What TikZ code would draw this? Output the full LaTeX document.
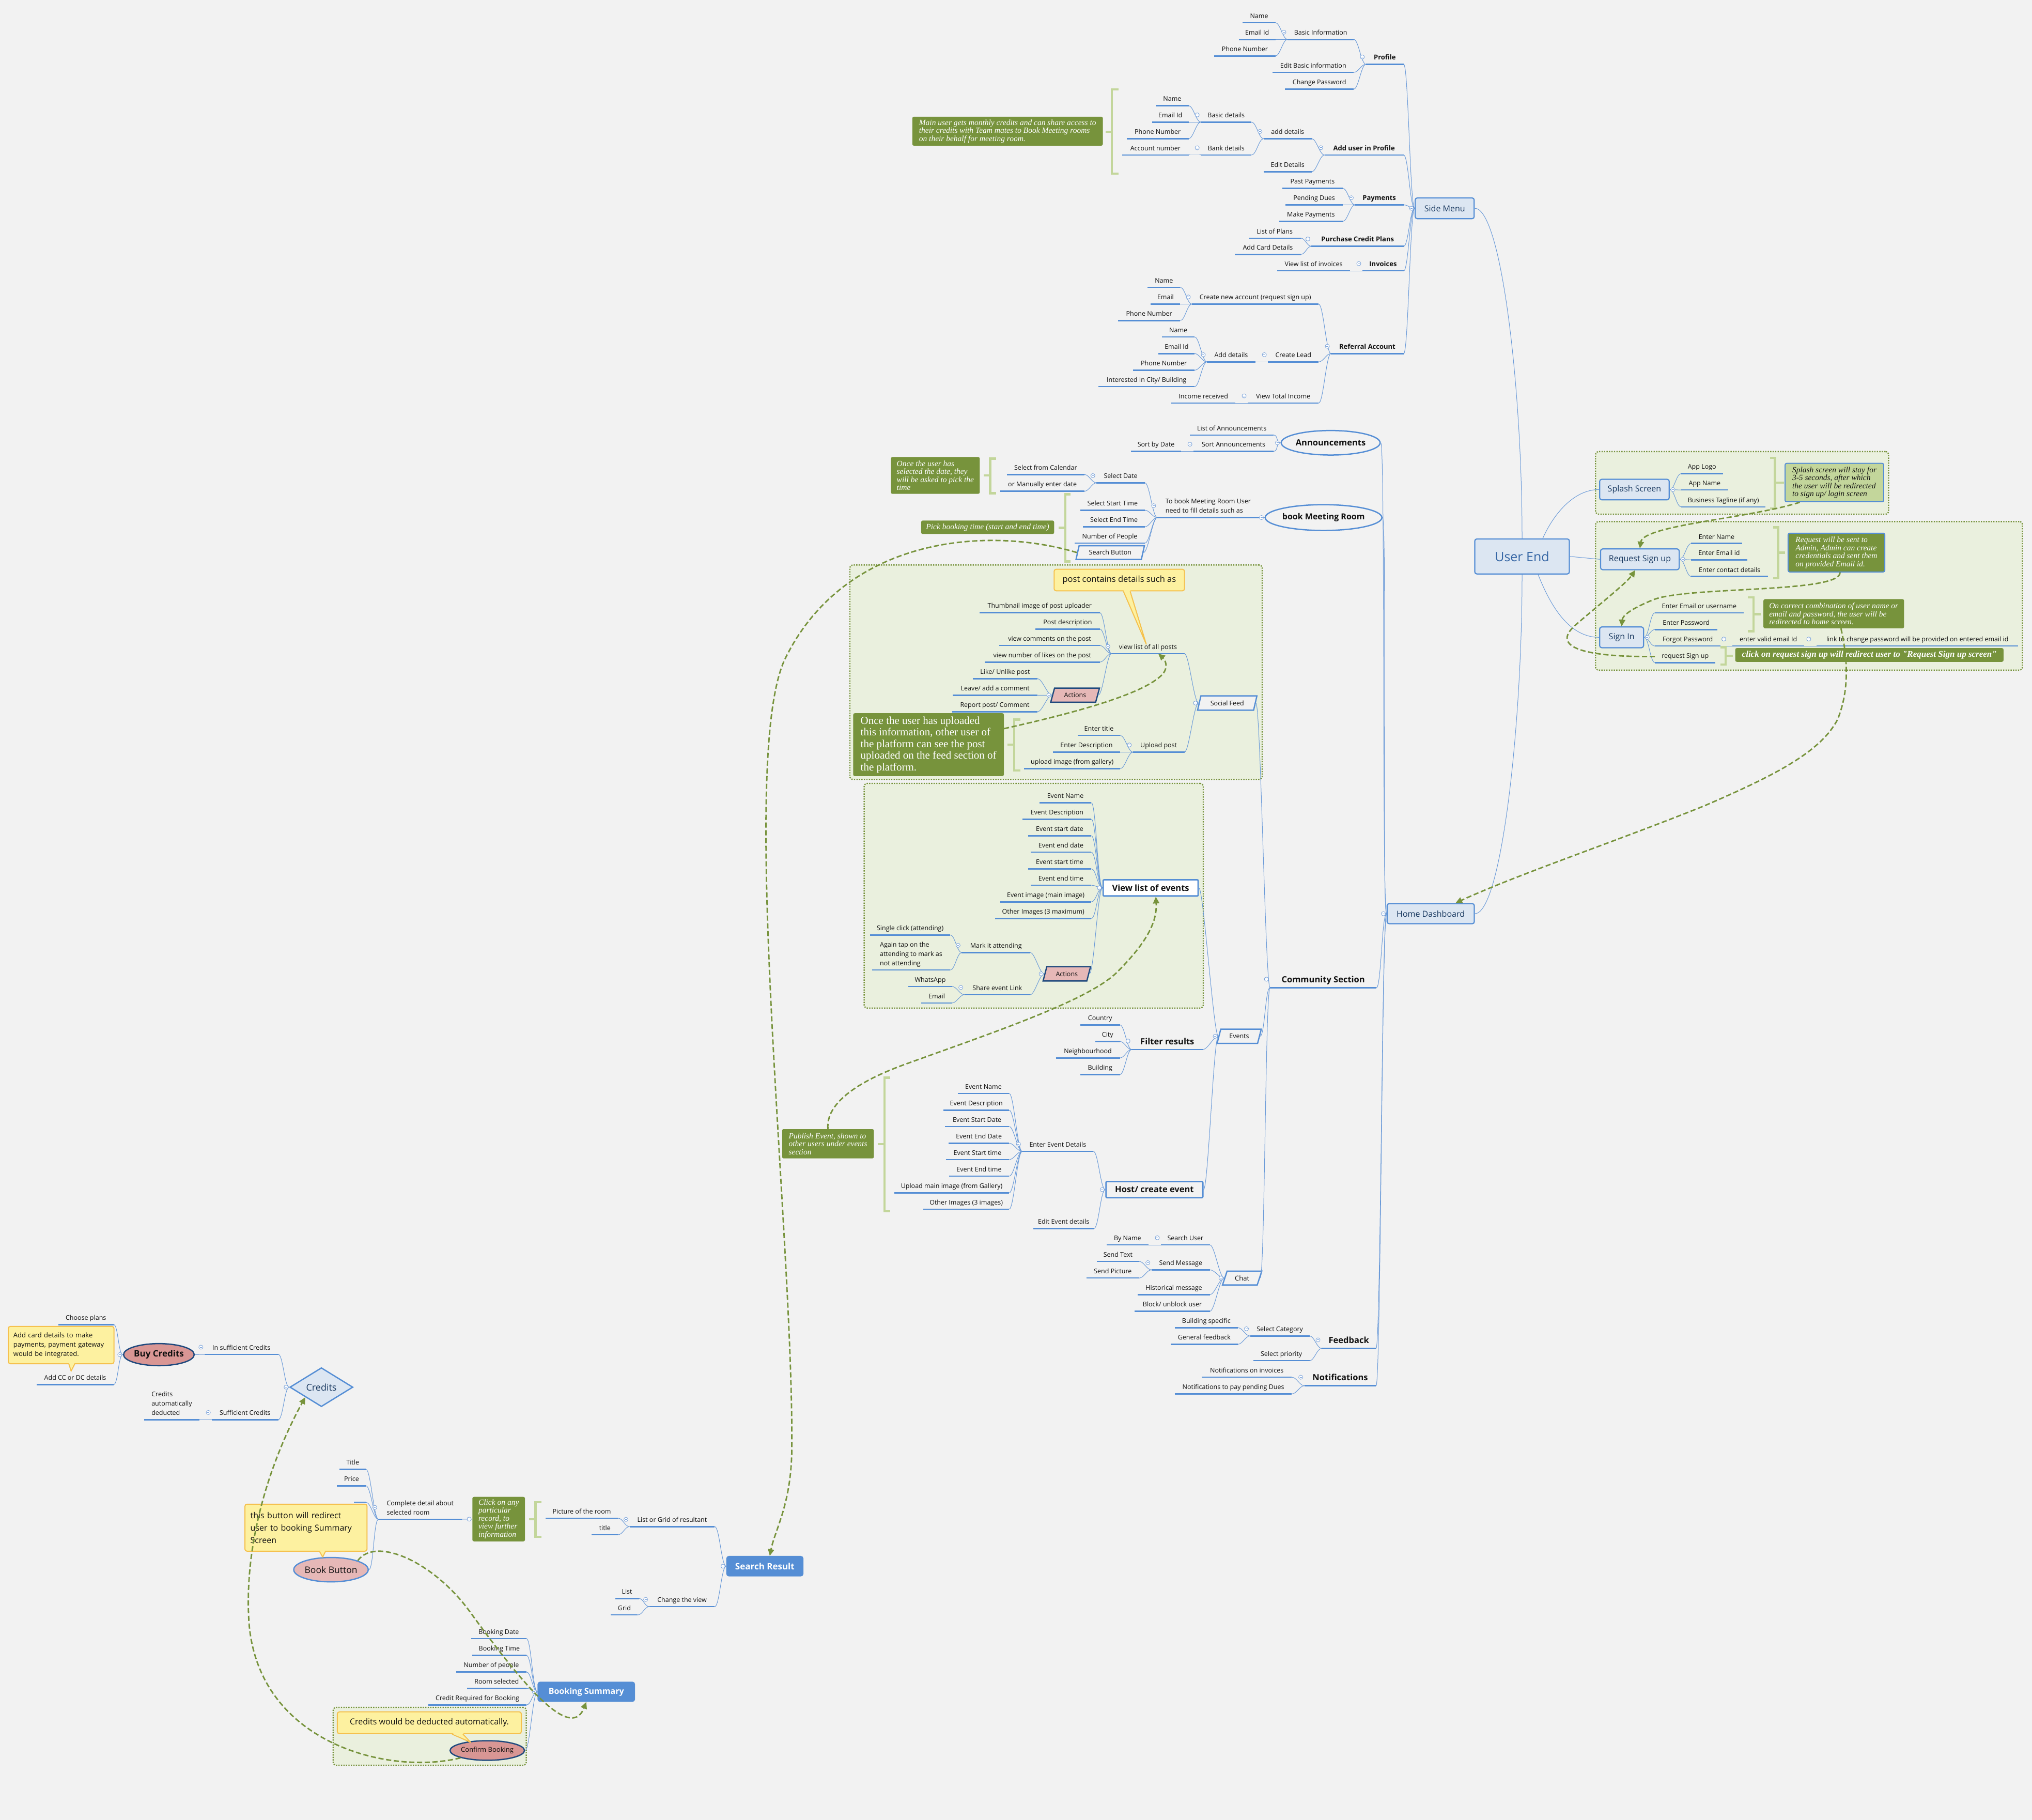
\documentclass[tikz,border=0pt]{standalone}
\usepackage{fontspec}
\setmainfont{Open Sans}
\newfontfamily\serifnote{Liberation Serif}
\usetikzlibrary{shapes.geometric,arrows.meta}
\definecolor{bgc}{HTML}{F2F2F2}
\definecolor{ulc}{HTML}{558ED5}
\definecolor{connc}{HTML}{6A9AD8}
\definecolor{boxfill}{HTML}{DCE6F2}
\definecolor{navy}{HTML}{17375E}
\definecolor{uetext}{HTML}{3465A4}
\definecolor{olive}{HTML}{77933C}
\definecolor{lolive}{HTML}{C3D69B}
\definecolor{contfill}{HTML}{EAF0DE}
\definecolor{pinkA}{HTML}{E6B8B7}
\definecolor{pinkB}{HTML}{D99694}
\definecolor{dblue}{HTML}{1F497D}
\definecolor{yfill}{HTML}{FDF1A0}
\definecolor{ydraw}{HTML}{F5C14E}
\definecolor{txt}{HTML}{111111}
\definecolor{collc}{HTML}{7BA3DA}
\newcommand\fsz[2]{\fontsize{#1}{#2}\selectfont}
\newcommand\tpc[6][]{\node[tp,#1,minimum width={(#4-#3)*2.5083pt},anchor=south west] (#2) at (#3,#5) {#6};\draw[ul] (#2.south west) -- (#2.south east);}
\newcommand\cnx[2]{\draw[conn] (#1) .. controls +(9pt,0pt) and +(-9pt,0pt) .. (#2);}
\newcommand\lcirc[1]{\path ([xshift=-7pt,yshift=2pt]#1.west) pic{coll};}
\newcommand\bcirc[1]{\path ([xshift=-6pt]#1.west) pic{coll};}
\newcommand\rcirc[1]{\path ([xshift=6pt]#1.east) pic{coll};}
\newcommand\ptr[4]{\fill[yfill] ([xshift=#2,yshift=2.5pt]#1.south) -- #4 -- ([xshift=#3,yshift=2.5pt]#1.south) -- cycle; \draw[draw=ydraw,line width=2pt,line join=round] ([xshift=#2]#1.south) -- #4 -- ([xshift=#3]#1.south);}
\tikzset{
  tp/.style={font=\fsz{12.5}{18}, text=txt, inner xsep=0pt, inner ysep=5.5pt, text depth=3pt},
  bt/.style={font=\fsz{13}{16}\bfseries},
  big/.style={font=\fsz{16.5}{20}\bfseries, inner ysep=6.5pt},
  ul/.style={draw=ulc, line width=2.5pt},
  conn/.style={draw=connc, line width=1pt},
  wh/.style 2 args={minimum width=#1*2.5083pt, minimum height=#2*2.5083pt},
  box/.style={draw=ulc, line width=2.2pt, fill=boxfill, rounded corners=4pt, text=navy, font=\fsz{16}{19}, inner sep=0pt},
  ell/.style={ellipse, draw=ulc, line width=2.5pt, fill=bgc, inner sep=0pt, text=txt},
  para/.style={trapezium, trapezium left angle=67, trapezium right angle=113, trapezium stretches=true, draw=ulc, line width=2.5pt, fill=bgc, inner sep=0pt, text=txt, font=\fsz{12.5}{15}},
  act/.style={para, fill=pinkA, draw=dblue},
  rbox/.style={draw=ulc, line width=2.8pt, fill=white, rounded corners=2pt, inner sep=0pt, text=txt, font=\fsz{16.5}{20}\bfseries},
  sbox/.style={fill=ulc, rounded corners=5pt, text=white, inner sep=0pt, font=\fsz{17}{20}\bfseries},
  onote/.style={fill=olive, rounded corners=3pt, text=white, align=left, inner sep=0pt, font=\serifnote\itshape\fsz{15.5}{15.5}},
  ycall/.style={fill=yfill, draw=ydraw, line width=2pt, rounded corners=4pt, text=txt, inner sep=0pt},
  cont/.style={fill=contfill, draw=olive, line width=2.4pt, dash pattern=on 2.4pt off 2.4pt, rounded corners=6pt, inner sep=0pt},
  brk/.style={draw=lolive, line width=4.5pt},
  darr/.style={draw=olive, line width=2.8pt, dash pattern=on 10pt off 5pt, -{Triangle[length=13pt,width=12pt]}},
  coll/.pic={\draw[line width=0.9pt,draw=collc,fill=white] (0,0) circle[radius=4pt]; \draw[line width=0.9pt,draw=collc] (-2pt,0) -- (2pt,0);}
}
\begin{document}
\begin{tikzpicture}[x=2.5083pt,y=-2.5083pt]
\useasboundingbox (0,0) rectangle (1568,1404);
\fill[bgc] (0,0) rectangle (1568,1404);
% containers
\node[cont, wh={318.2}{165.4}] (contsocial) at (814.9,518.6) {};
\node[cont, wh={261.7}{173.3}] (contevents) at (797.65,691.05) {};
\node[cont, wh={226.1}{48.3}] (contsplash) at (1344.25,372.55) {};
\node[cont, wh={329.4}{114.6}] (contsign) at (1395.9,459.7) {};
\node[cont, wh={149}{44.7}] (contconfirm) at (331.6,1339.55) {};
% main boxes
\node[box, wh={45.5}{16}] (side) at (1114.8,160.7) {Side Menu};
\node[box, wh={73}{27}, font=\fsz{25}{28}, text=uetext] (ue) at (1174.5,429.3) {User End};
\node[box, wh={53.7}{15.8}] (splash) at (1261.2,377.7) {Splash Screen};
\node[box, wh={60.7}{16}] (reqsignup) at (1265.4,431.5) {Request Sign up};
\node[box, wh={33.9}{16}] (signin) at (1251.3,491.7) {Sign In};
\node[box, wh={67.3}{15.5}] (homedash) at (1104,704.9) {Home Dashboard};
% Side menu topics
\tpc{pname}{959}{984}{17.5}{Name}
\tpc{pemail}{956}{984}{30.4}{Email Id}
\tpc{pphone}{937}{984}{43.2}{Phone Number}
\tpc{pbasic}{993.5}{1044.5}{30.4}{Basic Information}
\tpc{pedit}{982}{1044.5}{55.8}{Edit Basic information}
\tpc{pchg}{991.5}{1044.5}{68.7}{Change Password}
\tpc[bt]{profile}{1054}{1083}{49.6}{Profile}
\tpc{aname}{892}{917}{81.5}{Name}
\tpc{aemail}{889}{917}{94.2}{Email Id}
\tpc{aphone}{869.5}{917}{107}{Phone Number}
\tpc{aacct}{866}{917}{119.6}{Account number}
\tpc{abasic}{926.6}{965.6}{94.2}{Basic details}
\tpc{abank}{926.6}{965.6}{119.6}{Bank details}
\tpc{aadd}{975}{1012}{107}{add details}
\tpc{aedit}{975}{1012}{132.5}{Edit Details}
\tpc[bt]{adduser}{1022}{1083}{119.6}{Add user in Profile}
\tpc{past}{989.5}{1036}{145.3}{Past Payments}
\tpc{pend}{992}{1036}{158.1}{Pending Dues}
\tpc{make}{987}{1036}{170.8}{Make Payments}
\tpc[bt]{payments}{1045.5}{1083}{158.1}{Payments}
\tpc{plans}{963.6}{1003.5}{183.7}{List of Plans}
\tpc{card}{953}{1003.5}{196.3}{Add Card Details}
\tpc[bt]{purchase}{1012}{1083}{190}{Purchase Credit Plans}
\tpc{vinv}{985.5}{1041.7}{209}{View list of invoices}
\tpc[bt]{invoices}{1051.3}{1083}{209}{Invoices}
\tpc{rname}{885.5}{910.6}{221.7}{Name}
\tpc{remail}{888}{910.6}{234.6}{Email}
\tpc{rphone}{862.7}{910.6}{247.3}{Phone Number}
\tpc{rcreate}{919.7}{1017.4}{234.6}{Create new account (request sign up)}
\tpc{lname}{896.6}{921.7}{260}{Name}
\tpc{lemail}{894}{921.7}{272.8}{Email Id}
\tpc{lphone}{874.3}{921.7}{285.6}{Phone Number}
\tpc{lcity}{847.6}{921.7}{298.3}{Interested In City/ Building}
\tpc{ladd}{931.3}{968.6}{279.2}{Add details}
\tpc{llead}{978.4}{1017.4}{279.2}{Create Lead}
\tpc{income}{903.8}{953.2}{311}{Income received}
\tpc{vtotal}{962.8}{1017.4}{311}{View Total Income}
\tpc[bt]{referral}{1027}{1083}{272.8}{Referral Account}
% right side
\tpc{applogo}{1297.2}{1329.3}{365.4}{App Logo}
\tpc{appname}{1297.2}{1333.4}{378}{App Name}
\tpc{tagline}{1297.2}{1362.3}{391}{Business Tagline (if any)}
\tpc{ename}{1305}{1344}{419.3}{Enter Name}
\tpc{eemail}{1305}{1348}{431.9}{Enter Email id}
\tpc{econtact}{1305}{1364.1}{444.8}{Enter contact details}
\tpc{eeu}{1277}{1345.2}{472.8}{Enter Email or username}
\tpc{epw}{1277}{1325.2}{485.7}{Enter Password}
\tpc{forgot}{1277}{1327.6}{498.4}{Forgot Password}
\tpc{valid}{1336.7}{1392.2}{498.4}{enter valid email Id}
\tpc{link}{1401.8}{1557.2}{498.4}{link to change password will be provided on entered email id}
\tpc{reqsu}{1277}{1323.6}{511.2}{request Sign up}
% Home dashboard branches
\node[ell, wh={69.1}{18.9}, font=\fsz{16.5}{20}\bfseries] (ann) at (1026.8,341.6) {Announcements};
\node[ell, wh={80.2}{19.9}, font=\fsz{16}{20}\bfseries] (bookroom) at (1021.3,399.3) {book Meeting Room};
\tpc{listann}{918.3}{982.6}{335.6}{List of Announcements}
\tpc{sortann}{921}{982.6}{348.2}{Sort Announcements}
\tpc{sortdate}{872.7}{911.3}{348.2}{Sort by Date}
\tpc[align=left]{tobook}{893}{971.4}{399.3}{To book Meeting Room User\\need to fill details such as}
\tpc{seldate}{846.1}{883.3}{372.5}{Select Date}
\tpc{selcal}{777}{836.6}{366.1}{Select from Calendar}
\tpc{selman}{772}{836.6}{379}{or Manually enter date}
\tpc{selstart}{833.5}{883.3}{393.6}{Select Start Time}
\tpc{selend}{835.7}{883.3}{406.4}{Select End Time}
\tpc{numpeople}{829.3}{883.3}{419}{Number of People}
\node[para, wh={53}{10.6}] (searchbtn) at (856.7,426.3) {Search Button};
\tpc[big]{community}{980}{1062}{762}{Community Section}
% social feed
\node[para, wh={46}{11}] (social) at (947,542.4) {Social Feed};
\tpc{viewposts}{857.7}{913.8}{504.3}{view list of all posts}
\tpc{thumb}{755.8}{848.5}{472.7}{Thumbnail image of post uploader}
\tpc{postdesc}{799}{848.5}{485.3}{Post description}
\tpc{viewcom}{771.2}{848.5}{498}{view comments on the post}
\tpc{viewlikes}{759.9}{848.5}{510.8}{view number of likes on the post}
\node[act, wh={37.8}{10.8}] (actionsa) at (829.6,536.3) {Actions};
\tpc{like}{750.6}{800.5}{523.6}{Like/ Unlike post}
\tpc{leave}{735.2}{800.5}{536.4}{Leave/ add a comment}
\tpc{report}{734.6}{800.5}{549.1}{Report post/ Comment}
\tpc{upload}{874.2}{913.8}{580.3}{Upload post}
\tpc{etitle}{831.5}{864.3}{567.4}{Enter title}
\tpc{edesc}{812.4}{864.3}{580.3}{Enter Description}
\tpc{eimg}{790.2}{864.3}{593}{upload image (from gallery)}
% events
\node[para, wh={34.2}{11}] (events) at (956.2,799.5) {Events};
\node[rbox, wh={73.3}{12.5}] (viewevents) at (887.9,685) {View list of events};
\tpc{evname}{802}{842}{619.3}{Event Name}
\tpc{evdesc}{789.1}{842}{632}{Event Description}
\tpc{evsd}{793.2}{842}{644.8}{Event start date}
\tpc{eved}{795.2}{842}{657.5}{Event end date}
\tpc{evst}{793.2}{842}{670.3}{Event start time}
\tpc{evet}{795.2}{842}{683}{Event end time}
\tpc{evimg}{771.8}{842}{695.8}{Event image (main image)}
\tpc{evother}{767.9}{842}{708.6}{Other Images (3 maximum)}
\node[act, wh={36.8}{11}] (actionsb) at (823.2,751.3) {Actions};
\tpc{mark}{742.1}{794.8}{734.9}{Mark it attending}
\tpc{single}{671.4}{733.1}{721.3}{Single click (attending)}
\tpc[align=left]{again}{672.8}{733.1}{748.4}{Again tap on the\\attending to mark as\\not attending}
\tpc{share}{744.2}{794.8}{767.4}{Share event Link}
\tpc{whatsapp}{701}{734.5}{761.1}{WhatsApp}
\tpc{emailsh}{711}{734.5}{773.8}{Email}
\tpc[big]{filter}{873.2}{928.1}{809.7}{Filter results}
\tpc{country}{833.6}{864}{790.7}{Country}
\tpc{city}{845.2}{864}{803.5}{City}
\tpc{neigh}{814.7}{864}{816.2}{Neighbourhood}
\tpc{building}{833.6}{864}{829}{Building}
\node[rbox, wh={74.7}{12.4}, fill=bgc] (host) at (890.8,917.8) {Host/ create event};
\tpc{enterev}{788.7}{843.6}{888.3}{Enter Event Details}
\tpc{hname}{739}{778.6}{843.6}{Event Name}
\tpc{hdesc}{728}{778.6}{856.5}{Event Description}
\tpc{hsd}{729.2}{778.6}{869.1}{Event Start Date}
\tpc{hed}{732}{778.6}{882}{Event End Date}
\tpc{hst}{729.8}{778.6}{894.6}{Event Start time}
\tpc{het}{732.2}{778.6}{907.4}{Event End time}
\tpc{himg}{690}{778.6}{920.3}{Upload main image (from Gallery)}
\tpc{hother}{712.4}{778.6}{932.9}{Other Images (3 images)}
\tpc{editev}{797.4}{844}{947.8}{Edit Event details}
% chat
\node[para, wh={30.3}{10.7}, font=\fsz{13}{15}] (chat) at (958.5,986) {Chat};
\tpc{searchu}{895.8}{933.5}{960.5}{Search User}
\tpc{byname}{854}{886}{960.5}{By Name}
\tpc{sendmsg}{888.5}{933.5}{979.7}{Send Message}
\tpc{sendtext}{846.3}{878.9}{973.2}{Send Text}
\tpc{sendpic}{838.3}{878.9}{986}{Send Picture}
\tpc{hist}{878}{933.5}{998.8}{Historical message}
\tpc{block}{875.6}{933.5}{1011.6}{Block/ unblock user}
% feedback / notifications
\tpc[big]{feedback}{1019.8}{1061.7}{1040.3}{Feedback}
\tpc{selcat}{964.6}{1010.4}{1030.7}{Select Category}
\tpc{bspec}{906.5}{955}{1024.3}{Building specific}
\tpc{genfb}{903.3}{955}{1037.1}{General feedback}
\tpc{selpri}{967}{1010.4}{1049.8}{Select priority}
\tpc[big]{notif}{1006.5}{1061.7}{1069.1}{Notifications}
\tpc{notinv}{927.3}{996.7}{1062.5}{Notifications on invoices}
\tpc{notpay}{906.5}{996.7}{1075.4}{Notifications to pay pending Dues}
% credits
\node[ell, fill=pinkB, draw=dblue, wh={51.3}{17}, font=\fsz{17}{20}\bfseries] (buy) at (122.6,1045.1) {Buy Credits};
\node[diamond, aspect=1.6, draw=ulc, fill=boxfill, line width=2.5pt, wh={48.7}{30.1}, inner sep=0pt, font=\fsz{18}{20}, text=navy] (credits) at (248,1070.2) {Credits};
\tpc{choose}{44.9}{87.5}{1021.9}{Choose plans}
\tpc{addcc}{28.4}{87.5}{1068.2}{Add CC or DC details}
\tpc{insuff}{157.8}{214.6}{1044.9}{In sufficient Credits}
\tpc{suff}{163.5}{214.6}{1095.3}{Sufficient Credits}
\tpc[align=left]{autoded}{111.1}{153.8}{1095.3}{Credits\\automatically\\deducted}
% search result
\node[sbox, wh={59.6}{15.8}] (searchres) at (590.2,1208.3) {Search Result};
\tpc{listgrid}{485.8}{551.4}{1177.8}{List or Grid of resultant}
\tpc{picroom}{420.9}{476.8}{1171.3}{Picture of the room}
\tpc{titlea}{456.6}{476.8}{1184}{title}
\tpc{changeview}{501}{551.4}{1239.5}{Change the view}
\tpc{lista}{474.7}{492.8}{1233.2}{List}
\tpc{grida}{471.4}{492}{1245.9}{Grid}
\node[onote, wh={40.6}{34.3}] (clicknote) at (384.8,1172) {Click on any\\particular\\record, to\\view further\\information};
\tpc[align=left]{complete}{292}{356.3}{1172.1}{Complete detail about\\selected room}
\tpc{titleb}{261.9}{282.3}{1133.6}{Title}
\tpc{price}{260.1}{282.3}{1146.3}{Price}
\tpc{blank}{273}{282.3}{1159}{}
\node[ell, fill=pinkA, wh={55.6}{18.8}, font=\fsz{17.5}{20}] (bookbtn) at (255.4,1211) {Book Button};
% booking summary
\node[sbox, wh={75.3}{15.6}, font=\fsz{16}{20}\bfseries] (bsum) at (452.4,1305.2) {Booking Summary};
\tpc{bdate}{363.5}{406.1}{1264.2}{Booking Date}
\tpc{btime}{364.3}{406.1}{1277.1}{Booking Time}
\tpc{bnum}{351.9}{406.1}{1289.9}{Number of people}
\tpc{broom}{360.3}{406.1}{1302.6}{Room selected}
\tpc{bcredit}{330.6}{406.1}{1315.4}{Credit Required for Booking}
\node[ell, fill=pinkB, draw=dblue, wh={52.1}{15.1}, font=\fsz{13}{15}] (confirm) at (376,1350.5) {Confirm Booking};
% ---------- connectors ----------
\cnx{pname.south east}{pbasic.south west}
\cnx{pemail.south east}{pbasic.south west}
\cnx{pphone.south east}{pbasic.south west}
\cnx{pbasic.south east}{profile.south west}
\cnx{pedit.south east}{profile.south west}
\cnx{pchg.south east}{profile.south west}
\cnx{aname.south east}{abasic.south west}
\cnx{aemail.south east}{abasic.south west}
\cnx{aphone.south east}{abasic.south west}
\cnx{aacct.south east}{abank.south west}
\cnx{abasic.south east}{aadd.south west}
\cnx{abank.south east}{aadd.south west}
\cnx{aadd.south east}{adduser.south west}
\cnx{aedit.south east}{adduser.south west}
\cnx{past.south east}{payments.south west}
\cnx{pend.south east}{payments.south west}
\cnx{make.south east}{payments.south west}
\cnx{plans.south east}{purchase.south west}
\cnx{card.south east}{purchase.south west}
\cnx{vinv.south east}{invoices.south west}
\cnx{rname.south east}{rcreate.south west}
\cnx{remail.south east}{rcreate.south west}
\cnx{rphone.south east}{rcreate.south west}
\cnx{lname.south east}{ladd.south west}
\cnx{lemail.south east}{ladd.south west}
\cnx{lphone.south east}{ladd.south west}
\cnx{lcity.south east}{ladd.south west}
\cnx{ladd.south east}{llead.south west}
\cnx{income.south east}{vtotal.south west}
\cnx{rcreate.south east}{referral.south west}
\cnx{llead.south east}{referral.south west}
\cnx{vtotal.south east}{referral.south west}
\cnx{profile.south east}{side.west}
\cnx{adduser.south east}{side.west}
\cnx{payments.south east}{side.west}
\cnx{purchase.south east}{side.west}
\cnx{invoices.south east}{side.west}
\cnx{referral.south east}{side.west}
\draw[conn] (side.east) .. controls +(20,0) and +(0,-120) .. (ue.north);
\draw[conn] (ue.south) .. controls +(0,120) and +(20,0) .. (homedash.east);
\draw[conn] ([xshift=40pt]ue.north) .. controls +(8,-18) and +(-20,0) .. (splash.west);
\draw[conn] (ue.east) -- (reqsignup.west);
\draw[conn] ([xshift=31pt]ue.south) .. controls +(8,20) and +(-25,0) .. (signin.west);
\cnx{splash.east}{applogo.south west}
\cnx{splash.east}{appname.south west}
\cnx{splash.east}{tagline.south west}
\cnx{reqsignup.east}{ename.south west}
\cnx{reqsignup.east}{eemail.south west}
\cnx{reqsignup.east}{econtact.south west}
\cnx{signin.east}{eeu.south west}
\cnx{signin.east}{epw.south west}
\cnx{signin.east}{forgot.south west}
\cnx{signin.east}{reqsu.south west}
\cnx{forgot.south east}{valid.south west}
\cnx{valid.south east}{link.south west}
\cnx{ann.east}{homedash.west}
\cnx{bookroom.east}{homedash.west}
\cnx{community.south east}{homedash.west}
\cnx{feedback.south east}{homedash.west}
\cnx{notif.south east}{homedash.west}
\cnx{listann.south east}{ann.west}
\cnx{sortann.south east}{ann.west}
\cnx{sortdate.south east}{sortann.south west}
\cnx{tobook.south east}{bookroom.west}
\cnx{seldate.south east}{tobook.south west}
\cnx{selstart.south east}{tobook.south west}
\cnx{selend.south east}{tobook.south west}
\cnx{numpeople.south east}{tobook.south west}
\cnx{searchbtn.east}{tobook.south west}
\cnx{selcal.south east}{seldate.south west}
\cnx{selman.south east}{seldate.south west}
\cnx{social.east}{community.south west}
\cnx{events.east}{community.south west}
\cnx{chat.east}{community.south west}
\cnx{viewposts.south east}{social.west}
\cnx{upload.south east}{social.west}
\cnx{thumb.south east}{viewposts.south west}
\cnx{postdesc.south east}{viewposts.south west}
\cnx{viewcom.south east}{viewposts.south west}
\cnx{viewlikes.south east}{viewposts.south west}
\cnx{actionsa.east}{viewposts.south west}
\cnx{like.south east}{actionsa.west}
\cnx{leave.south east}{actionsa.west}
\cnx{report.south east}{actionsa.west}
\cnx{etitle.south east}{upload.south west}
\cnx{edesc.south east}{upload.south west}
\cnx{eimg.south east}{upload.south west}
\cnx{viewevents.east}{events.west}
\cnx{filter.south east}{events.west}
\cnx{host.east}{events.west}
\cnx{evname.south east}{viewevents.west}
\cnx{evdesc.south east}{viewevents.west}
\cnx{evsd.south east}{viewevents.west}
\cnx{eved.south east}{viewevents.west}
\cnx{evst.south east}{viewevents.west}
\cnx{evet.south east}{viewevents.west}
\cnx{evimg.south east}{viewevents.west}
\cnx{evother.south east}{viewevents.west}
\cnx{actionsb.east}{viewevents.west}
\cnx{mark.south east}{actionsb.west}
\cnx{share.south east}{actionsb.west}
\cnx{single.south east}{mark.south west}
\cnx{again.south east}{mark.south west}
\cnx{whatsapp.south east}{share.south west}
\cnx{emailsh.south east}{share.south west}
\cnx{country.south east}{filter.south west}
\cnx{city.south east}{filter.south west}
\cnx{neigh.south east}{filter.south west}
\cnx{building.south east}{filter.south west}
\cnx{enterev.south east}{host.west}
\cnx{editev.south east}{host.west}
\cnx{hname.south east}{enterev.south west}
\cnx{hdesc.south east}{enterev.south west}
\cnx{hsd.south east}{enterev.south west}
\cnx{hed.south east}{enterev.south west}
\cnx{hst.south east}{enterev.south west}
\cnx{het.south east}{enterev.south west}
\cnx{himg.south east}{enterev.south west}
\cnx{hother.south east}{enterev.south west}
\cnx{searchu.south east}{chat.west}
\cnx{sendmsg.south east}{chat.west}
\cnx{hist.south east}{chat.west}
\cnx{block.south east}{chat.west}
\cnx{byname.south east}{searchu.south west}
\cnx{sendtext.south east}{sendmsg.south west}
\cnx{sendpic.south east}{sendmsg.south west}
\cnx{selcat.south east}{feedback.south west}
\cnx{selpri.south east}{feedback.south west}
\cnx{bspec.south east}{selcat.south west}
\cnx{genfb.south east}{selcat.south west}
\cnx{notinv.south east}{notif.south west}
\cnx{notpay.south east}{notif.south west}
\cnx{choose.south east}{buy.west}
\cnx{addcc.south east}{buy.west}
\cnx{buy.east}{insuff.south west}
\cnx{insuff.south east}{credits.west}
\cnx{suff.south east}{credits.west}
\cnx{autoded.south east}{suff.south west}
\cnx{listgrid.south east}{searchres.west}
\cnx{changeview.south east}{searchres.west}
\cnx{picroom.south east}{listgrid.south west}
\cnx{titlea.south east}{listgrid.south west}
\cnx{lista.south east}{changeview.south west}
\cnx{grida.south east}{changeview.south west}
\cnx{complete.south east}{clicknote.west}
\cnx{titleb.south east}{complete.south west}
\cnx{price.south east}{complete.south west}
\cnx{blank.south east}{complete.south west}
\cnx{bookbtn.east}{complete.south west}
\cnx{bdate.south east}{bsum.west}
\cnx{btime.south east}{bsum.west}
\cnx{bnum.south east}{bsum.west}
\cnx{broom.south east}{bsum.west}
\cnx{bcredit.south east}{bsum.west}
\cnx{confirm.east}{bsum.west}
% ---------- collapse circles ----------
\foreach \n in {pbasic,profile,aadd,abasic,abank,adduser,payments,purchase,invoices,rcreate,ladd,llead,vtotal,referral,sortann,tobook,seldate,viewposts,upload,mark,share,filter,enterev,searchu,sendmsg,selcat,feedback,notif,community,insuff,suff,listgrid,changeview,complete}{\lcirc{\n}}
\foreach \n in {side,homedash,ann,bookroom,social,actionsa,viewevents,actionsb,events,host,chat,buy,credits,searchres,bsum,clicknote}{\bcirc{\n}}
\foreach \n in {splash,reqsignup,signin}{\rcirc{\n}}
\path ([xshift=6pt,yshift=13.5pt]forgot.south east) pic{coll};
\path ([xshift=8.5pt,yshift=13.5pt]valid.south east) pic{coll};
% ---------- notes ----------
\node[onote, wh={147}{22.4}] (mainnote) at (777.5,101.2) {Main user gets monthly credits and can share access to\\their credits with Team mates to Book Meeting rooms\\on their behalf for meeting room.};
\node[onote, fill=lolive, draw=ulc, line width=2pt, text=txt, wh={76.1}{29.6}] (splashnote) at (1415.5,372.3) {Splash screen will stay for\\3-5 seconds, after which\\the user will be redirected\\to sign up/ login screen};
\node[onote, draw=ulc, line width=2pt, wh={74.6}{29.9}] (reqnote) at (1417.1,426.3) {Request will be sent to\\Admin, Admin can create\\credentials and sent them\\on provided Email id.};
\node[onote, wh={108.5}{22.5}] (signinnote) at (1415,473.5) {On correct combination of user name or\\email and password, the user will be\\redirected to home screen.};
\node[onote, wh={207}{10.6}, font=\serifnote\bfseries\itshape\fsz{17}{18}] (reqsunote) at (1442.5,505.3) {click on request sign up will redirect user to "Request Sign up screen"};
\node[onote, wh={68.5}{28.4}] (datenote) at (721.75,366.8) {Once the user has\\selected the date, they\\will be asked to pick the\\time};
\node[onote, wh={102.6}{10.4}] (picknote) at (762.1,406.8) {Pick booking time (start and end time)};
\node[onote, wh={116.3}{48.5}, font=\serifnote\fsz{21}{22.5}] (viewnote) at (716.5,574.5) {Once the user has uploaded\\this information, other user of\\the platform can see the post\\uploaded on the feed section of\\the platform.};
\node[onote, wh={70.8}{22.6}] (publishnote) at (638.9,882.4) {Publish Event, shown to\\other users under events\\section};
% brackets
\draw[brk] (863,69) -- (858,69) -- (858,134) -- (863,134) (858,101.7) -- (853,101.7);
\draw[brk] (768.6,353.9) -- (764,353.9) -- (764,380.5) -- (768.6,380.5) (764,366.8) -- (759,366.8);
\draw[brk] (826,381.4) -- (822,381.4) -- (822,433.2) -- (826,433.2) (822,407.3) -- (817,407.3);
\draw[brk] (787.3,555.2) -- (782.6,555.2) -- (782.6,594.4) -- (787.3,594.4) (782.6,574.5) -- (777.4,574.5);
\draw[brk] (687,831.5) -- (682.5,831.5) -- (682.5,934.5) -- (687,934.5) (682.5,882.7) -- (677.4,882.7);
\draw[brk] (417.7,1159) -- (413.3,1159) -- (413.3,1185.7) -- (417.7,1185.7) (413.3,1172.1) -- (408.4,1172.1);
\draw[brk] (1366,353.2) -- (1369.7,353.2) -- (1369.7,392.3) -- (1366,392.3) (1369.7,372.3) -- (1376.5,372.3);
\draw[brk] (1368.2,406.9) -- (1372,406.9) -- (1372,446.2) -- (1368.2,446.2) (1372,426.3) -- (1377.6,426.3);
\draw[brk] (1348.8,460.9) -- (1353,460.9) -- (1353,487) -- (1348.8,487) (1353,473.8) -- (1358.5,473.8);
\draw[brk] (1327.6,499.4) -- (1331.6,499.4) -- (1331.6,512.7) -- (1327.6,512.7) (1331.6,506) -- (1337.2,506);
% callouts
\node[ycall, wh={100.6}{16.6}, font=\fsz{16.5}{20}] (postcall) at (863.7,447.5) {post contains details such as};
\ptr{postcall}{8pt}{21pt}{(884.5,497)}
\node[ycall, wh={81.5}{28.8}, font=\fsz{13}{18}, align=left, text width=185pt] (cardcall) at (47.2,1037.7) {Add card details to make\\payments, payment gateway\\would be integrated.};
\ptr{cardcall}{15pt}{26pt}{(54.9,1057.8)}
\node[ycall, wh={94.2}{36.3}, font=\fsz{16}{24}, align=left, text width=215pt] (btncall) at (236.1,1178.6) {this button will redirect\\user to booking Summary\\Screen};
\ptr{btncall}{26.6pt}{37.4pt}{(249,1201.3)}
\node[ycall, wh={142}{16.8}, font=\fsz{16}{20}] (credcall) at (331.3,1329.1) {Credits would be deducted automatically.};
\ptr{credcall}{44pt}{65pt}{(363.2,1344.2)}
% ---------- dashed arrows ----------
\draw[darr] ([xshift=-67pt]splashnote.south) .. controls (1350,400) and (1268,405) .. (reqsignup.north);
\draw[darr] ([xshift=7pt]reqnote.south) .. controls (1420,458) and (1300,452) .. (1275,463) .. controls (1258,470) and (1252,475) .. (signin.north);
\draw[darr] (reqsu.west) .. controls (1225,507) and (1195,500) .. (1216,482) .. controls (1232,468) and (1255,450) .. ([xshift=-9pt]reqsignup.south);
\draw[darr] ([xshift=14pt]signinnote.south) .. controls (1425,505) and (1428,530) .. (1418,555) .. controls (1405,580) and (1370,598) .. (1315.6,621.5) .. controls (1250,648) and (1170,675) .. ([xshift=48pt]homedash.north);
\draw[darr] (searchbtn.west) .. controls (760,405) and (650,415) .. (605,510) .. controls (570,590) and (612,950) .. (611,1116) .. controls (611,1160) and (598,1180) .. ([xshift=9.5pt]searchres.north);
\draw[darr] ([yshift=31pt]viewnote.east) .. controls (820,552) and (885,536) .. (898,519) .. controls (902,513) and (898,508) .. ([xshift=90.5pt]viewposts.south west);
\draw[darr] (publishnote.north) .. controls (637,852) and (660,835) .. (698.7,821) .. controls (765,797) and (840,772) .. (862,750) .. controls (884,728) and (893,712) .. ([xshift=10pt]viewevents.south);
\draw[darr] (bookbtn.north east) .. controls (290,1185) and (335,1205) .. (363,1244) .. controls (400,1295) and (440,1345) .. (bsum.south);
\draw[darr] (confirm.south west) .. controls (300,1370) and (198,1345) .. (192,1250) .. controls (188,1180) and (215,1115) .. (credits.south west);
\end{tikzpicture}
\end{document}
